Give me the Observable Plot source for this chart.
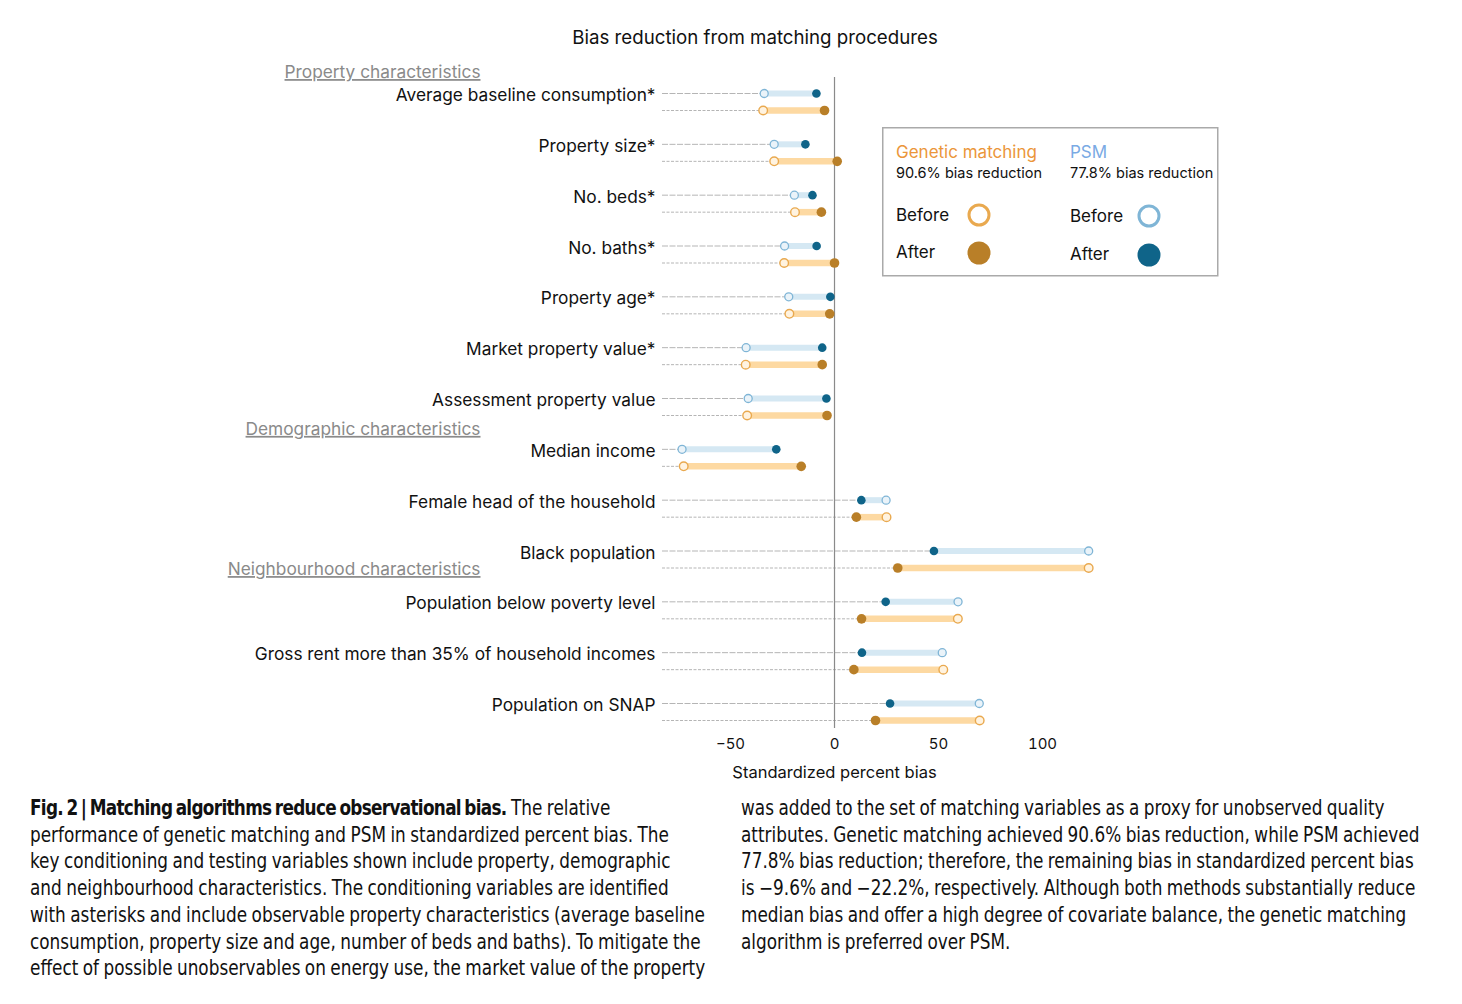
<!DOCTYPE html>
<html>
<head>
<meta charset="utf-8">
<script src="https://cdn.jsdelivr.net/npm/d3@7"></script>
<script src="https://cdn.jsdelivr.net/npm/@observablehq/plot@0.6"></script>
<style>
  html, body { margin: 0; padding: 0; background: #fff; }
  #wrap { position: relative; width: 1462px; height: 1004px; overflow: hidden; font-family: Inter, "Noto Sans", sans-serif; color: #111; }
  #title { position: absolute; top: 26px; left: 0; width: 1510px; text-align: center; font-size: 18.7px; }
  #chart { position: absolute; top: 0; left: 0; }
  #legend { position: absolute; left: 882px; top: 127px; }
  .cap { position: absolute; top: 795px; font-family: "DejaVu Sans Condensed", "DejaVu Sans", sans-serif; font-stretch: condensed; font-size: 20.5px; line-height: 26.7px; white-space: nowrap; color: #111; word-spacing: -1px; transform: scaleX(0.915); transform-origin: 0 0; }
  .cap b { letter-spacing: -0.75px; word-spacing: -2px; }
  #capL { left: 30px; }
  #capR { left: 741px; }
</style>
</head>
<body>
<div id="wrap">
  <div id="title">Bias reduction from matching procedures</div>
  <div id="chart"></div>
  <div id="legend"></div>
  <div class="cap" id="capL"><b>Fig. 2 | Matching algorithms reduce observational bias.</b> The relative<br>performance of genetic matching and PSM in standardized percent bias. The<br>key conditioning and testing variables shown include property, demographic<br>and neighbourhood characteristics. The conditioning variables are identified<br>with asterisks and include observable property characteristics (average baseline<br>consumption, property size and age, number of beds and baths). To mitigate the<br>effect of possible unobservables on energy use, the market value of the property</div>
  <div class="cap" id="capR">was added to the set of matching variables as a proxy for unobserved quality<br>attributes. Genetic matching achieved 90.6% bias reduction, while PSM achieved<br>77.8% bias reduction; therefore, the remaining bias in standardized percent bias<br>is −9.6% and −22.2%, respectively. Although both methods substantially reduce<br>median bias and offer a high degree of covariate balance, the genetic matching<br>algorithm is preferred over PSM.</div>
</div>
<script>
const rows = [
  "Average baseline consumption*",
  "Property size*",
  "No. beds*",
  "No. baths*",
  "Property age*",
  "Market property value*",
  "Assessment property value",
  "Median income",
  "Female head of the household",
  "Black population",
  "Population below poverty level",
  "Gross rent more than 35% of household incomes",
  "Population on SNAP"
];
const psmBefore = [-33.8, -29.0, -19.3, -24.0, -22.0, -42.5, -41.5, -73.3, 24.8, 122.2, 59.4, 51.8, 69.6];
const psmAfter  = [ -8.7, -14.0, -10.6,  -8.6,  -2.0,  -5.9,  -3.9, -28.0, 12.9,  47.8, 24.6, 13.2, 26.7];
const gmBefore  = [-34.3, -29.0, -19.0, -24.2, -21.7, -42.7, -42.0, -72.5, 25.0, 122.2, 59.3, 52.3, 69.8];
const gmAfter   = [ -4.8,   1.3,  -6.3,   0.0,  -2.3,  -5.9,  -3.6, -16.0, 10.5,  30.4, 13.0,  9.3, 19.7];
const xTicks = [-50, 0, 50, 100];
const sectionNames = ["Property characteristics", "Demographic characteristics", "Neighbourhood characteristics"];
const sectionRows = ["Average baseline consumption*", "Median income", "Black population"];
const axisTitle = "Standardized percent bias";

const data = rows.map((r, i) => ({row: r, psmB: psmBefore[i], psmA: psmAfter[i], gmB: gmBefore[i], gmA: gmAfter[i]}));
const xMin = -82.7;
const dP = -8.5, dG = 8.5;

const C = {
  psmSeg: "#d5e8f3", gmSeg: "#fdd9a2",
  psmBefore: "#7fb5d6", gmBefore: "#e9a94f",
  psmAfter: "#0f6489", gmAfter: "#b97f28",
  guide: "#b5b5b5", zero: "#8a8a8a"
};

const plot = Plot.plot({
  width: 1462,
  height: 790,
  marginLeft: 662,
  marginRight: 368,
  marginTop: 77,
  marginBottom: 62,
  style: {fontFamily: "Inter, 'Noto Sans', sans-serif", fontSize: "15px", color: "#222", background: "transparent", overflow: "visible"},
  x: {domain: [xMin, 125], label: null},
  y: {type: "point", domain: rows, range: [101.5, 711.5], padding: 0, round: false, axis: null},
  marks: [
    Plot.ruleY(data, {y: "row", x1: xMin, x2: d => Math.min(d.psmB, d.psmA), dy: dP, stroke: C.guide, strokeWidth: 1, strokeDasharray: "6,1.5"}),
    Plot.ruleY(data, {y: "row", x1: xMin, x2: d => Math.min(d.gmB, d.gmA), dy: dG, stroke: C.guide, strokeWidth: 1, strokeDasharray: "3,1.5"}),
    Plot.ruleX([0], {stroke: C.zero, strokeWidth: 1.2}),
    Plot.ruleY(data, {y: "row", x1: "psmB", x2: "psmA", dy: dP, stroke: C.psmSeg, strokeWidth: 6}),
    Plot.ruleY(data, {y: "row", x1: "gmB", x2: "gmA", dy: dG, stroke: C.gmSeg, strokeWidth: 6.5}),
    Plot.dot(data, {y: "row", x: "psmB", dy: dP, r: 4, stroke: C.psmBefore, fill: "#eaf3f9", strokeWidth: 1.3}),
    Plot.dot(data, {y: "row", x: "gmB", dy: dG, r: 4.3, stroke: C.gmBefore, fill: "#fff3e0", strokeWidth: 1.4}),
    Plot.dot(data, {y: "row", x: "psmA", dy: dP, r: 4.3, fill: C.psmAfter}),
    Plot.dot(data, {y: "row", x: "gmA", dy: dG, r: 4.8, fill: C.gmAfter}),
    Plot.text(rows, {y: d => d, text: d => d, frameAnchor: "left", dx: -7, dy: -6.5, textAnchor: "end", fontSize: 17.3, fill: "#111"}),
    Plot.text([sectionNames[0]], {y: () => sectionRows[0], text: d => d, frameAnchor: "left", dx: -182, dy: -29.5, textAnchor: "end", fontSize: 17.3, fill: "#8a8a8a"}),
    Plot.text([sectionNames[1]], {y: () => sectionRows[1], text: d => d, frameAnchor: "left", dx: -182, dy: -28.5, textAnchor: "end", fontSize: 17.3, fill: "#8a8a8a"}),
    Plot.text([sectionNames[2]], {y: () => sectionRows[2], text: d => d, frameAnchor: "left", dx: -182, dy: 10, textAnchor: "end", fontSize: 17.3, fill: "#8a8a8a"}),
    Plot.axisX(xTicks, {tickSize: 0, tickPadding: 10, fontSize: 15, fill: "#111"}),
    Plot.text([axisTitle], {x: () => 0, text: d => d, frameAnchor: "bottom", dy: 49, fontSize: 16.5, fill: "#111"})
  ]
});
document.getElementById("chart").appendChild(plot);
d3.select(plot).selectAll("text").filter(function() { return sectionNames.includes(this.textContent); })
  .style("text-decoration", "underline");

// Legend
const lg = d3.select("#legend").append("svg").attr("width", 338).attr("height", 151)
  .style("font-family", "Inter, 'Noto Sans', sans-serif");
lg.append("rect").attr("x", 0.75).attr("y", 0.75).attr("width", 335).attr("height", 148)
  .attr("fill", "#fff").attr("stroke", "#aaa").attr("stroke-width", 1.5);
const legendItems = [
  {x: 14, title: "Genetic matching", sub: "90.6% bias reduction", color: "#eb963a", before: C.gmBefore, after: C.gmAfter, cx: 97},
  {x: 188, title: "PSM", sub: "77.8% bias reduction", color: "#7aaae4", before: C.psmBefore, after: C.psmAfter, cx: 267}
];
legendItems.forEach((it, i) => {
  lg.append("text").attr("x", it.x).attr("y", 25).attr("dy", "0.35em").attr("font-size", 17).attr("fill", it.color).text(it.title);
  lg.append("text").attr("x", it.x).attr("y", 46).attr("dy", "0.35em").attr("font-size", 14.5).attr("fill", "#111").text(it.sub);
  lg.append("text").attr("x", it.x).attr("y", 88 + i).attr("dy", "0.35em").attr("font-size", 17).attr("fill", "#111").text("Before");
  lg.append("text").attr("x", it.x).attr("y", 125 + 2 * i).attr("dy", "0.35em").attr("font-size", 17).attr("fill", "#111").text("After");
  lg.append("circle").attr("cx", it.cx).attr("cy", 88 + i).attr("r", 10).attr("fill", "#fff").attr("stroke", it.before).attr("stroke-width", 3);
  lg.append("circle").attr("cx", it.cx).attr("cy", 126 + 2 * i).attr("r", 11.5).attr("fill", it.after);
});
</script>
</body>
</html>
